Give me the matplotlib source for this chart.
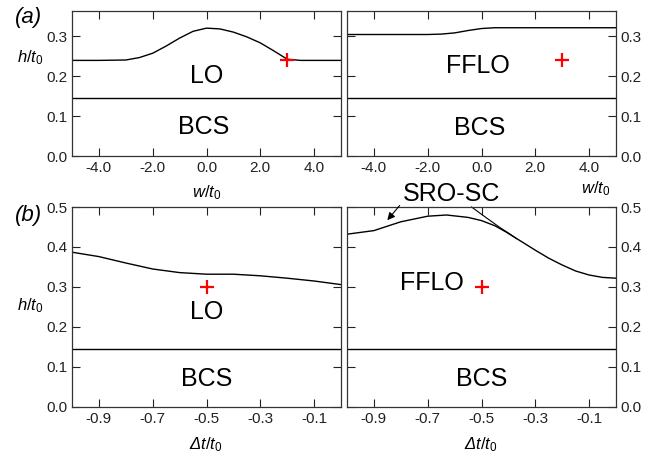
import matplotlib.pyplot as plt

plt.rcParams['font.family'] = 'Liberation Sans'
plt.rcParams['mathtext.fontset'] = 'custom'
plt.rcParams['mathtext.rm'] = 'Liberation Sans'
plt.rcParams['mathtext.it'] = 'Liberation Sans:italic'

# (a) phase boundaries vs w/t0
w_lo = [-5, -4, -3, -2.5, -2, -1.5, -1, -0.5, 0, 0.5, 1, 1.5, 2, 2.5, 3, 3.5, 5]
h_lo = [0.24, 0.24, 0.241, 0.247, 0.258, 0.276, 0.296, 0.313, 0.321, 0.319, 0.311, 0.299, 0.284, 0.264, 0.243, 0.24, 0.24]
w_fflo = [-5, -2, -1.5, -1, -0.5, 0, 0.5, 5]
h_fflo = [0.305, 0.305, 0.306, 0.309, 0.315, 0.32, 0.322, 0.322]
h_bcs = 0.145
point_a = (3.0, 0.24)

# (b) phase boundaries vs dt/t0
dt_lo = [-1.0, -0.9, -0.8, -0.7, -0.6, -0.5, -0.4, -0.3, -0.2, -0.1, 0.0]
hb_lo = [0.387, 0.376, 0.36, 0.345, 0.336, 0.332, 0.332, 0.328, 0.322, 0.315, 0.306]
dt_fflo = [-1.0, -0.9, -0.8, -0.7, -0.63, -0.55, -0.5, -0.45, -0.41, -0.35, -0.3, -0.25, -0.2, -0.15, -0.1, -0.05, 0.0]
hb_fflo = [0.432, 0.441, 0.463, 0.477, 0.48, 0.474, 0.466, 0.453, 0.438, 0.413, 0.392, 0.372, 0.355, 0.34, 0.33, 0.324, 0.322]
dt_sro = [-0.537, -0.48, -0.43, -0.40, -0.37]
hb_sro = [0.5, 0.472, 0.448, 0.435, 0.421]
point_b = (-0.5, 0.30)

W, H = 672, 457
fig = plt.figure(figsize=(6.72, 4.57), dpi=100)


def box(x0, y0, x1, y1):
    return [x0 / W, 1 - y1 / H, (x1 - x0) / W, (y1 - y0) / H]


def ftext(x, y, s, **kw):
    fig.text(x / W, 1 - y / H, s, ha='center', va='center', **kw)


ax1 = fig.add_axes(box(72, 11, 341, 156))
ax2 = fig.add_axes(box(347, 11, 616, 156))
ax3 = fig.add_axes(box(72, 207, 341, 407))
ax4 = fig.add_axes(box(347, 207, 616, 407))

for ax in (ax1, ax2, ax3, ax4):
    ax.tick_params(direction='in', top=True, right=True, left=True, length=6,
                   width=0.8, labelsize=11, colors='#222222')
    for sp in ax.spines.values():
        sp.set_linewidth(0.9)
        sp.set_color('#333333')
    ax.axhline(h_bcs, color='black', lw=1.0)

for ax in (ax1, ax2):
    ax.set_xlim(-5, 5)
    ax.set_ylim(0, 0.364)
    ax.set_xticks([-4, -2, 0, 2, 4])
    ax.set_xticklabels(['-4.0', '-2.0', '0.0', '2.0', '4.0'])
    ax.set_yticks([0, 0.1, 0.2, 0.3])
    ax.set_yticklabels(['0.0', '0.1', '0.2', '0.3'])
for ax in (ax3, ax4):
    ax.set_xlim(-1.0, 0.0)
    ax.set_ylim(0, 0.5)
    ax.set_xticks([-0.9, -0.7, -0.5, -0.3, -0.1])
    ax.set_xticklabels(['-0.9', '-0.7', '-0.5', '-0.3', '-0.1'])
    ax.set_yticks([0, 0.1, 0.2, 0.3, 0.4, 0.5])
    ax.set_yticklabels(['0.0', '0.1', '0.2', '0.3', '0.4', '0.5'])

for ax in (ax2, ax4):
    ax.tick_params(labelleft=False, labelright=True)

# curves
ax1.plot(w_lo, h_lo, color='black', lw=1.0)
ax2.plot(w_fflo, h_fflo, color='black', lw=1.0)
ax3.plot(dt_lo, hb_lo, color='black', lw=1.0)
ax4.plot(dt_fflo, hb_fflo, color='black', lw=1.0)
ax4.plot(dt_sro, hb_sro, color='black', lw=0.8, clip_on=False)

mk = dict(marker='+', color='red', ms=10, mew=1.6, ls='none', zorder=5)
ax1.plot(*point_a, **mk)
ax2.plot(*point_a, **mk)
ax3.plot(*point_b, **mk)
ax4.plot(*point_b, **mk)

big = 18
ax1.text(0, 0.20, 'LO', fontsize=big, ha='center', va='center')
ax1.text(-0.1, 0.072, 'BCS', fontsize=big, ha='center', va='center')
ax2.text(-0.13, 0.227, 'FFLO', fontsize=big, ha='center', va='center')
ax2.text(-0.05, 0.07, 'BCS', fontsize=big, ha='center', va='center')
ax3.text(-0.5, 0.238, 'LO', fontsize=big, ha='center', va='center')
ax3.text(-0.5, 0.069, 'BCS', fontsize=big, ha='center', va='center')
ax4.text(-0.685, 0.311, 'FFLO', fontsize=big, ha='center', va='center')
ax4.text(-0.5, 0.069, 'BCS', fontsize=big, ha='center', va='center')

ax4.annotate('SRO-SC', xy=(-0.85, 0.467), xytext=(-0.613, 0.533),
             fontsize=big, ha='center', va='center', annotation_clip=False,
             arrowprops=dict(arrowstyle='-|>', color='black', lw=0.8,
                             mutation_scale=11, shrinkA=0, shrinkB=0,
                             relpos=(0.0, 0.15)),
             )

# axis labels
lab = 12
ftext(30, 58, r'$h/t_0$', fontsize=lab)
ftext(30, 306, r'$h/t_0$', fontsize=lab)
ftext(207, 193, r'$w/t_0$', fontsize=lab)
ftext(596, 189, r'$w/t_0$', fontsize=lab)
ftext(206, 445, r'Δ$t/t_0$', fontsize=lab, style='italic')
ftext(481, 445, r'Δ$t/t_0$', fontsize=lab, style='italic')
ftext(29, 18, '(a)', fontsize=16, style='italic')
ftext(29, 216, '(b)', fontsize=16, style='italic')

fig.savefig('out.png', dpi=100)
